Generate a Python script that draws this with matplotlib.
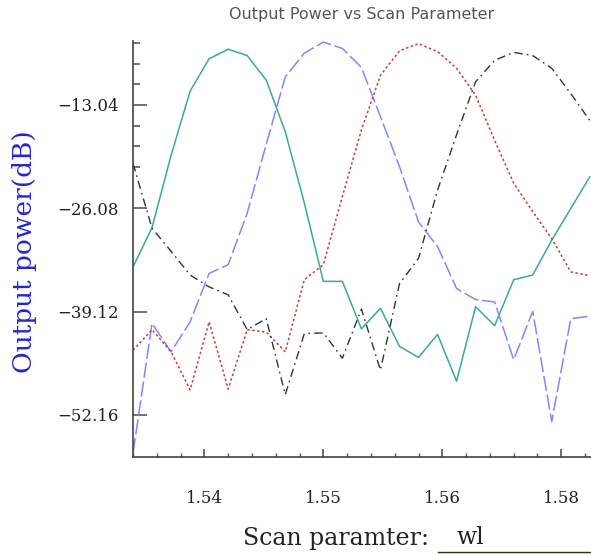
import matplotlib
matplotlib.use("Agg")
import matplotlib.pyplot as plt
from matplotlib.patches import Rectangle

# scan parameter (wavelength, um)
wl = [1.5340, 1.5356, 1.5372, 1.5388, 1.5404, 1.5420, 1.5436, 1.5452, 1.5468,
      1.5484, 1.5500, 1.5516, 1.5532, 1.5548, 1.5564, 1.5580, 1.5596, 1.5612,
      1.5628, 1.5644, 1.5660, 1.5676, 1.5692, 1.5708, 1.5724]

# output power (dB) of the four ports
port1 = [-33.5, -28.5, -19.4, -11.3, -7.2, -6.0, -6.8, -9.9, -16.4, -25.4,
         -35.3, -35.3, -41.3, -38.7, -43.5, -44.9, -42.0, -47.9, -38.5, -40.9,
         -35.1, -34.5, -30.1, -26.1, -22.1]
port2 = [-57.0, -40.6, -44.2, -40.4, -34.3, -33.2, -26.7, -18.0, -9.5, -6.5,
         -5.1, -5.9, -8.3, -14.5, -20.8, -27.8, -30.9, -36.2, -37.6, -37.9,
         -45.2, -39.1, -53.0, -40.0, -39.7]
port3 = [-44.0, -41.4, -44.2, -49.0, -40.4, -48.9, -41.4, -41.7, -44.2, -35.1,
         -33.2, -24.6, -16.2, -9.3, -6.2, -5.3, -6.3, -8.4, -11.8, -17.5,
         -22.9, -26.5, -29.9, -34.1, -34.6]
port4 = [-20.4, -28.6, -31.5, -34.5, -36.0, -37.0, -41.4, -40.0, -49.6, -41.9,
         -41.8, -45.0, -38.8, -46.5, -35.6, -32.4, -23.8, -16.8, -10.1, -7.4,
         -6.4, -6.8, -8.4, -11.6, -15.0]

xticks = [1.54, 1.55, 1.56, 1.57]
xtick_labels = ["1.54", "1.55", "1.56", "1.58"]
yticks = [-52.16, -39.12, -26.08, -13.04]
ytick_labels = ["-52.16", "-39.12", "-26.08", "-13.04"]

W, H = 591, 555
fig = plt.figure(figsize=(W / 100, H / 100), dpi=100)
ax = fig.add_axes([133 / W, 98 / H, 1 - 133 / W, (457 - 41.3) / H])

ax.plot(wl, port1, color="#3aa89c", lw=1.1)
ax.plot(wl, port2, color="#8585ff", lw=1.1, dashes=[10, 2.5])
ax.plot(wl, port3, color="#cc3a3a", lw=1.1, dashes=[1.6, 1.6])
ax.plot(wl, port4, color="#333333", lw=1.0, dashes=[6, 3, 1.2, 3])

ax.set_xlim(1.534, 1.5725)
ax.set_ylim(-57.47, -5.0)

for s in ["top", "right"]:
    ax.spines[s].set_visible(False)
for s in ["left", "bottom"]:
    ax.spines[s].set_color("#444444")
    ax.spines[s].set_linewidth(1.2)

ax.set_xticks(xticks)
ax.set_xticklabels(xtick_labels)
ax.set_xticks([1.534 + 0.002 * k for k in range(20)], minor=True)
ax.set_yticks(yticks)
ax.set_yticklabels([t.replace("-", "\u2212") for t in ytick_labels])
ax.set_yticks([-13.04 + 2.608 * k for k in range(-3, 18)
               if -57.47 <= -13.04 + 2.608 * k <= -5.0], minor=True)

ax.tick_params(axis="y", which="major", direction="in", length=10, width=1.3,
               color="#666666", pad=10, labelsize=12)
ax.tick_params(axis="y", which="minor", direction="in", length=5, width=1.3,
               color="#666666")
ax.tick_params(axis="x", which="major", direction="in", length=6, width=1.2,
               color="#555555", pad=24, labelsize=12)
ax.tick_params(axis="x", which="minor", direction="in", length=3.2, width=1.0,
               color="#555555")
for lab in ax.get_xticklabels() + ax.get_yticklabels():
    lab.set_fontfamily("DejaVu Serif")
    lab.set_color("#222222")

fig.text(362 / W, 1 - 15 / H, "Output Power vs Scan Parameter", ha="center",
         va="center", fontsize=11.5, color="#555555", family="DejaVu Sans")
fig.text(25 / W, 1 - 252 / H, "Output power(dB)", rotation=90, ha="center",
         va="center", fontsize=19, color="#2626d0", family="DejaVu Serif")
fig.text(243 / W, 1 - 538 / H, "Scan paramter:", ha="left", va="center",
         fontsize=17, color="#222222", family="DejaVu Serif")
fig.text(457 / W, 1 - 538 / H, "wl", ha="left", va="center",
         fontsize=17, color="#222222", family="DejaVu Serif")
fig.patches.append(Rectangle((438 / W, 0), 1 - 438 / W, 3.5 / H,
                             transform=fig.transFigure, facecolor="#fdfbe2",
                             edgecolor="none"))
fig.lines.append(plt.Line2D([438 / W, 1], [1 - 552 / H, 1 - 552 / H],
                            transform=fig.transFigure, color="#333322", lw=1.0))

fig.savefig("out.png", dpi=100)
